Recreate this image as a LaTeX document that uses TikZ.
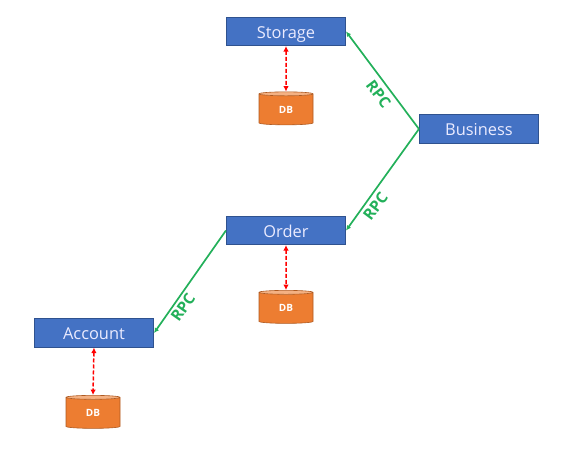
\documentclass[tikz,border=0pt]{standalone}
\usepackage{fontspec}
\setmainfont{Open Sans}
\usetikzlibrary{shapes.geometric,arrows.meta}
\definecolor{boxblue}{HTML}{4472C4}
\definecolor{boxedge}{HTML}{2F528F}
\definecolor{dborange}{HTML}{ED7D31}
\definecolor{dbedge}{HTML}{AE5A21}
\definecolor{dbtop}{HTML}{F4B183}
\definecolor{rpcgreen}{HTML}{23B05A}
\tikzset{
  svc/.style={draw=boxedge,line width=0.6pt,fill=boxblue,text=white!92!blue,minimum width=119.5pt,minimum height=28.5pt,inner sep=0pt,text height=13.5pt,text depth=0pt,font=\fontsize{16.4}{18}\selectfont},
  db/.style={cylinder,shape border rotate=90,aspect=0.28,draw=dbedge,line width=0.6pt,cylinder uses custom fill,cylinder body fill=dborange,cylinder end fill=dbtop,minimum width=54pt,minimum height=33pt,inner sep=0pt,text=white,font=\fontsize{10}{12}\selectfont\bfseries},
  rpc/.style={draw=rpcgreen,line width=1.7pt,-{Latex[length=5pt,width=5pt]}},
  dblink/.style={draw=red,line width=1.5pt,dashed,dash pattern=on 4pt off 2pt,{Latex[length=5.5pt,width=5.5pt]}-{Latex[length=5.5pt,width=5.5pt]}},
  rpclabel/.style={text=rpcgreen,inner sep=0pt,font=\fontsize{15.5}{17}\selectfont\bfseries}
}
\begin{document}
\begin{tikzpicture}[x=1pt,y=-1pt]
\useasboundingbox (0,0) rectangle (581,454);
\node[svc] (storage) at (286,31.5) {Storage};
\node[svc] (business) at (479,129) {Business};
\node[svc] (order) at (286,230.5) {Order};
\node[svc] (account) at (94,333) {Account};
\node[db] (db1) at (286,109.5) {DB};
\node[db] (db2) at (286,308) {DB};
\node[db] (db3) at (93,413) {DB};
\draw[rpc] (business.west) -- (storage.east);
\draw[rpc] (business.west) -- (order.east);
\draw[rpc] (order.west) -- (account.east);
\draw[dblink] (storage.south) -- (db1.north);
\draw[dblink] (order.south) -- (db2.north);
\draw[dblink] (account.south) -- (db3.north);
\node[rpclabel,rotate=-53] (r1) at (378.5,94) {RPC};
\node[rpclabel,rotate=53] (r2) at (375.5,206.5) {RPC};
\node[rpclabel,rotate=55] (r3) at (183,307.5) {RPC};
\end{tikzpicture}
\end{document}
